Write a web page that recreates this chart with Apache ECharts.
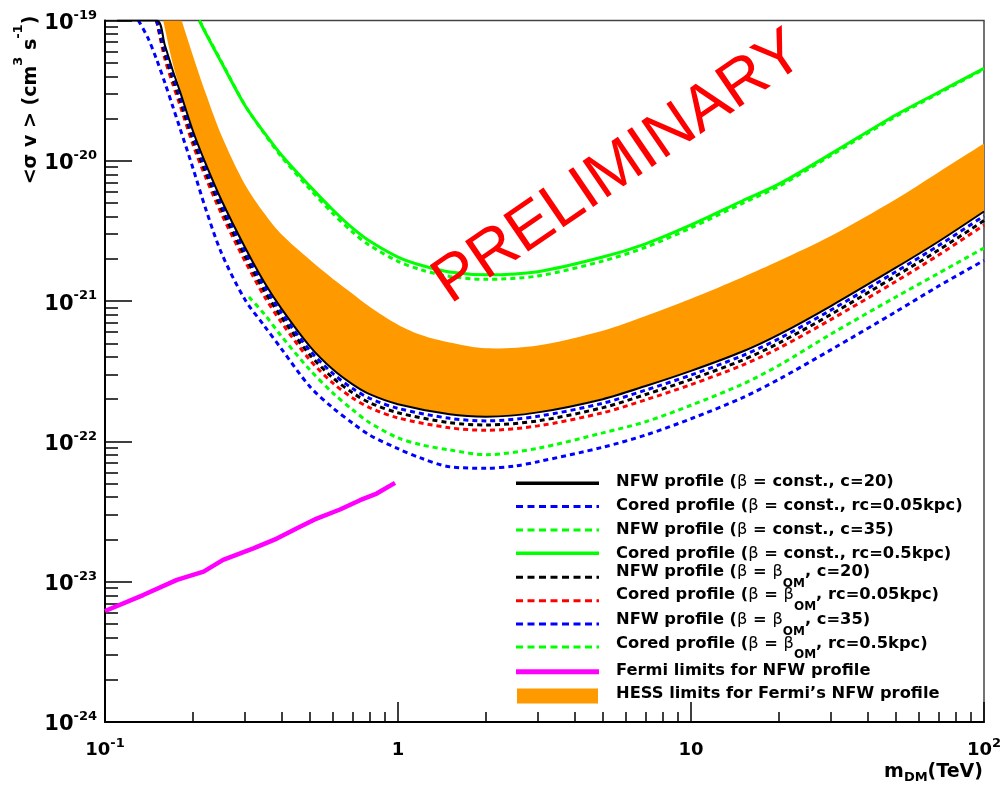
<!DOCTYPE html>
<html>
<head>
<meta charset="utf-8">
<title>DM annihilation cross-section limits</title>
<script src="https://cdn.jsdelivr.net/npm/echarts@6.0.0/dist/echarts.min.js"></script>
<style>
html,body{margin:0;padding:0;background:#ffffff;}
#chart{width:1003px;height:785px;}
</style>
</head>
<body>
<div id="chart"></div>
<script>
// ---------------- axis ticks ----------------
const xMajorTicks = [0.1, 1, 10, 100];
const xTickBase = ['10', '1', '10', '10'];
const xTickExp = ['-1', '', '', '2'];
const yMajorTicks = [1e-24, 1e-23, 1e-22, 1e-21, 1e-20, 1e-19];
const yTickBase = ['10', '10', '10', '10', '10', '10'];
const yTickExp = ['-24', '-23', '-22', '-21', '-20', '-19'];
const minorMultipliers = [2, 3, 4, 5, 6, 7, 8, 9];

// ---------------- series data (m_DM in TeV, <sigma v> in cm^3 s^-1) ----------------
const mBundle = [0.11, 0.15, 0.16, 0.17, 0.18, 0.2, 0.22, 0.25, 0.3, 0.35, 0.4, 0.5, 0.6, 0.7, 0.8, 1, 1.5, 2, 3, 5, 7, 10, 15, 20, 30, 50, 70, 100];
const nfwConstC20 = [1e-19, 1e-19, 6.69e-20, 4.46e-20, 3.15e-20, 1.61e-20, 9.66e-21, 5.21e-21, 2.43e-21, 1.355e-21, 8.83e-22, 4.76e-22, 3.25e-22, 2.55e-22, 2.17e-22, 1.84e-22, 1.56e-22, 1.50e-22, 1.61e-22, 2.00e-22, 2.48e-22, 3.18e-22, 4.37e-22, 5.79e-22, 9.22e-22, 1.73e-21, 2.66e-21, 4.35e-21];
const coredConstRc005 = [null, 1e-19, 6.25e-20, 4.17e-20, 2.95e-20, 1.51e-20, 9.03e-21, 4.87e-21, 2.27e-21, 1.27e-21, 8.26e-22, 4.45e-22, 3.04e-22, 2.38e-22, 2.03e-22, 1.72e-22, 1.46e-22, 1.40e-22, 1.51e-22, 1.87e-22, 2.32e-22, 2.97e-22, 4.09e-22, 5.41e-22, 8.62e-22, 1.62e-21, 2.49e-21, 4.04e-21];
const nfwOmC20 = [null, 1e-19, 5.82e-20, 3.88e-20, 2.74e-20, 1.40e-20, 8.40e-21, 4.53e-21, 2.11e-21, 1.18e-21, 7.68e-22, 4.14e-22, 2.83e-22, 2.22e-22, 1.89e-22, 1.60e-22, 1.36e-22, 1.31e-22, 1.40e-22, 1.74e-22, 2.16e-22, 2.77e-22, 3.80e-22, 5.04e-22, 8.02e-22, 1.51e-21, 2.31e-21, 3.75e-21];
const coredOmRc005 = [null, 1e-19, 5.35e-20, 3.57e-20, 2.52e-20, 1.29e-20, 7.73e-21, 4.17e-21, 1.94e-21, 1.08e-21, 7.06e-22, 3.81e-22, 2.60e-22, 2.04e-22, 1.74e-22, 1.47e-22, 1.25e-22, 1.20e-22, 1.29e-22, 1.60e-22, 1.98e-22, 2.54e-22, 3.50e-22, 4.63e-22, 7.38e-22, 1.38e-21, 2.13e-21, 3.48e-21];

const mNfwOmC35 = [0.13, 0.14, 0.15, 0.16, 0.17, 0.18, 0.2, 0.22, 0.25, 0.3, 0.35, 0.4, 0.5, 0.6, 0.7, 0.8, 1, 1.2, 1.5, 2, 2.5, 3, 5, 7, 10, 15, 20, 30, 50, 70, 100];
const nfwOmC35 = [1e-19, 7.54e-20, 5.28e-20, 3.61e-20, 2.47e-20, 1.72e-20, 8.75e-21, 4.63e-21, 2.19e-21, 1.03e-21, 6.65e-22, 4.57e-22, 2.46e-22, 1.73e-22, 1.35e-22, 1.11e-22, 8.87e-23, 7.59e-23, 6.59e-23, 6.44e-23, 6.68e-23, 7.16e-23, 9.09e-23, 1.11e-22, 1.45e-22, 2.05e-22, 2.78e-22, 4.49e-22, 8.39e-22, 1.28e-21, 1.95e-21];

const mNfwConstC35 = [0.31, 0.35, 0.4, 0.5, 0.6, 0.7, 0.8, 1, 1.2, 1.5, 2, 3, 5, 7, 10, 15, 20, 30, 50, 70, 100];
const nfwConstC35 = [1.07e-21, 8.07e-22, 5.62e-22, 3.24e-22, 2.21e-22, 1.68e-22, 1.36e-22, 1.06e-22, 9.46e-23, 8.69e-23, 8.04e-23, 8.93e-23, 1.15e-22, 1.38e-22, 1.81e-22, 2.56e-22, 3.49e-22, 5.81e-22, 1.07e-21, 1.58e-21, 2.39e-21];

const mCoredRc05 = [0.21, 0.22, 0.25, 0.3, 0.35, 0.4, 0.5, 0.6, 0.7, 0.8, 1, 1.2, 1.5, 2, 3, 5, 7, 10, 15, 20, 30, 50, 70, 100];
const coredConstRc05 = [1e-19, 8.21e-20, 5.00e-20, 2.49e-20, 1.58e-20, 1.10e-20, 6.6e-21, 4.46e-21, 3.31e-21, 2.68e-21, 2.06e-21, 1.80e-21, 1.61e-21, 1.54e-21, 1.62e-21, 2.06e-21, 2.56e-21, 3.49e-21, 5.19e-21, 6.84e-21, 1.12e-20, 2.12e-20, 3.08e-20, 4.56e-20];
const coredOmRc05 = [1e-19, 8.3e-20, 5.05e-20, 2.5e-20, 1.56e-20, 1.07e-20, 6.3e-21, 4.2e-21, 3.1e-21, 2.5e-21, 1.92e-21, 1.67e-21, 1.50e-21, 1.43e-21, 1.51e-21, 1.93e-21, 2.42e-21, 3.33e-21, 4.98e-21, 6.6e-21, 1.09e-20, 2.07e-20, 3.02e-20, 4.5e-20];

const mFermi = [0.1, 0.135, 0.176, 0.217, 0.253, 0.321, 0.386, 0.463, 0.528, 0.634, 0.742, 0.846, 0.977];
const fermiNfw = [6.18e-24, 8.03e-24, 1.03e-23, 1.18e-23, 1.43e-23, 1.73e-23, 2.03e-23, 2.46e-23, 2.82e-23, 3.27e-23, 3.81e-23, 4.25e-23, 5.06e-23];

const mHessLow = [0.158, 0.17, 0.18, 0.2, 0.22, 0.25, 0.3, 0.35, 0.4, 0.5, 0.6, 0.7, 0.8, 1, 1.5, 2, 3, 5, 7, 10, 15, 20, 30, 50, 70, 100];
const hessLow = [1e-19, 5.0e-20, 3.3e-20, 1.66e-20, 9.8e-21, 5.3e-21, 2.45e-21, 1.37e-21, 8.9e-22, 4.8e-22, 3.28e-22, 2.58e-22, 2.19e-22, 1.86e-22, 1.57e-22, 1.51e-22, 1.62e-22, 2.02e-22, 2.5e-22, 3.2e-22, 4.4e-22, 5.83e-22, 9.28e-22, 1.74e-21, 2.68e-21, 4.38e-21];
const mHessHigh = [0.1827, 0.2, 0.22, 0.25, 0.3, 0.35, 0.4, 0.5, 0.6, 0.7, 0.8, 1, 1.2, 1.5, 2, 3, 5, 7, 10, 15, 20, 30, 50, 70, 100];
const hessHigh = [1e-19, 5.55e-20, 3.08e-20, 1.51e-20, 6.81e-21, 4.21e-21, 2.99e-21, 1.97e-21, 1.44e-21, 1.13e-21, 9.12e-22, 6.79e-22, 5.73e-22, 5.07e-22, 4.61e-22, 4.83e-22, 6.15e-22, 7.83e-22, 1.04e-21, 1.48e-21, 1.94e-21, 2.91e-21, 5.32e-21, 8.30e-21, 1.33e-20];

// ---------------- texts ----------------
const legendLabels = [
  'NFW profile (β = const., c=20)',
  'Cored profile (β = const., rc=0.05kpc)',
  'NFW profile (β = const., c=35)',
  'Cored profile (β = const., rc=0.5kpc)',
  'NFW profile (β = β_{OM}, c=20)',
  'Cored profile (β = β_{OM}, rc=0.05kpc)',
  'NFW profile (β = β_{OM}, c=35)',
  'Cored profile (β = β_{OM}, rc=0.5kpc)',
  'Fermi limits for NFW profile',
  'HESS limits for Fermi’s NFW profile'
];
const watermarkText = 'PRELIMINARY';

// ---------------- styles & layout (kept apart from data) ----------------
const FONT = '"DejaVu Sans", "Liberation Sans", sans-serif';
const lineStyles = [
  {color: '#000000', width: 2, type: 'solid'},
  {color: '#0000ff', width: 3, type: [5, 4]},
  {color: '#00ff00', width: 3, type: [5, 4]},
  {color: '#00ff00', width: 3, type: 'solid'},
  {color: '#000000', width: 3, type: [5, 4]},
  {color: '#ff0000', width: 3, type: [5, 4]},
  {color: '#0000ff', width: 3, type: [5, 4]},
  {color: '#00ff00', width: 3, type: [5, 4]},
  {color: '#ff00ff', width: 4.5, type: 'solid'}
];
const bandColor = '#ff9900';
const legendSampleY = [483.3, 506.5, 530, 553.3, 577.3, 600.7, 624, 647, 671.7, 696];
const legendTextY = [482, 506, 529.3, 553.3, 571.7, 595, 620, 643.3, 671, 693.3];
const legendSampleWidths = [3.5, 3, 3, 3.5, 3, 3, 3, 3, 5];
const legendDash = [null, [7, 4.5], [7, 4.5], null, [7, 4.5], [7, 4.5], [7, 4.5], [7, 4.5], null];

function zip(xs, ys) {
  const out = [];
  xs.forEach((x, i) => { if (ys[i] != null) out.push([x, ys[i]]); });
  return out;
}
function plainName(s) { return s.replace(/_\{([^}]*)\}/g, '$1'); }
function toRich(s) {
  return s.split(/(β|_\{[^}]*\})/).filter(p => p !== '').map(p => {
    if (p === 'β') return '{g|β}';
    if (p.indexOf('_{') === 0) return '{s|' + p.slice(2, -1) + '}';
    return '{b|' + p + '}';
  }).join('');
}

const xMinorTicks = xMajorTicks.slice(0, -1).flatMap(d => minorMultipliers.map(k => k * d));
const yMinorTicks = yMajorTicks.slice(0, -1).flatMap(d => minorMultipliers.map(k => k * d));

function labelFor(ticks, bases, exps) {
  return function (v) {
    const e = Math.round(Math.log10(v));
    const i = ticks.findIndex(t => Math.round(Math.log10(t)) === e);
    if (i < 0) return '';
    return exps[i] ? '{n|' + bases[i] + '}{e|' + exps[i] + '}' : '{n|' + bases[i] + '}';
  };
}

const tickLine = {color: '#000', width: 1.5};

const xAxisBase = {type: 'log', logBase: 10, min: 0.1, max: 100, position: 'bottom', splitLine: {show: false}, minorTick: {show: false}, minorSplitLine: {show: false}};
const yAxisBase = {type: 'log', logBase: 10, min: 1e-24, max: 1e-19, position: 'left', splitLine: {show: false}, minorTick: {show: false}, minorSplitLine: {show: false}};

const curveDefs = [
  {name: legendLabels[7], data: zip(mCoredRc05, coredOmRc05), st: lineStyles[7]},
  {name: legendLabels[3], data: zip(mCoredRc05, coredConstRc05), st: lineStyles[3]},
  {name: legendLabels[6], data: zip(mNfwOmC35, nfwOmC35), st: lineStyles[6]},
  {name: legendLabels[2], data: zip(mNfwConstC35, nfwConstC35), st: lineStyles[2]},
  {name: legendLabels[5], data: zip(mBundle, coredOmRc005), st: lineStyles[5]},
  {name: legendLabels[4], data: zip(mBundle, nfwOmC20), st: lineStyles[4]},
  {name: legendLabels[1], data: zip(mBundle, coredConstRc005), st: lineStyles[1]},
  {name: legendLabels[0], data: zip(mBundle, nfwConstC20), st: lineStyles[0]}
];

const series = [];
series.push({
  type: 'custom',
  name: legendLabels[9],
  z: 1,
  silent: true,
  data: [[mHessLow[0], hessLow[0]]],
  renderItem: function (params, api) {
    const low = mHessLow.map((m, i) => api.coord([m, hessLow[i]]));
    const high = mHessHigh.map((m, i) => api.coord([m, hessHigh[i]])).reverse();
    // repeat the corner points so the smoothed outline keeps sharp corners
    const pts = [low[0]].concat(low, [low[low.length - 1]], [high[0]], high, [high[high.length - 1]]);
    const cs = params.coordSys;
    return {
      type: 'polygon',
      shape: {points: pts, smooth: 0.3},
      style: {fill: bandColor, stroke: null},
      clipPath: {type: 'rect', shape: {x: cs.x, y: cs.y, width: cs.width, height: cs.height}}
    };
  }
});
curveDefs.forEach(c => {
  series.push({
    type: 'line', name: plainName(c.name), data: c.data, z: 3,
    symbol: 'none', showSymbol: false, smooth: 0.3, clip: true, silent: true,
    lineStyle: {color: c.st.color, width: c.st.width, type: c.st.type},
    itemStyle: {color: c.st.color}
  });
});
series.push({
  type: 'line', name: legendLabels[8], data: zip(mFermi, fermiNfw), z: 3,
  symbol: 'none', showSymbol: false, smooth: false, clip: true, silent: true,
  lineStyle: {color: lineStyles[8].color, width: lineStyles[8].width},
  itemStyle: {color: lineStyles[8].color}
});

// ---------------- graphic: legend, axis titles, watermark ----------------
const richLegend = {
  b: {fontFamily: FONT, fontWeight: 'bold', fontSize: 16.3, fill: '#000'},
  g: {fontFamily: FONT, fontWeight: 'normal', fontSize: 16.3, fill: '#000'},
  s: {fontFamily: FONT, fontWeight: 'bold', fontSize: 12, height: 12, padding: [24, 0, 0, 0], verticalAlign: 'top', fill: '#000'}
};
const graphics = [];
for (let i = 0; i < 9; i++) {
  graphics.push({
    type: 'line', silent: true, z: 50,
    shape: {x1: 516, y1: legendSampleY[i], x2: 599, y2: legendSampleY[i]},
    style: {stroke: lineStyles[i].color, lineWidth: legendSampleWidths[i], lineDash: legendDash[i]}
  });
}
graphics.push({
  type: 'rect', silent: true, z: 50,
  shape: {x: 517, y: legendSampleY[9] - 7.5, width: 81, height: 15},
  style: {fill: bandColor}
});
legendLabels.forEach((lab, i) => {
  graphics.push({
    type: 'text', silent: true, z: 50, x: 616, y: legendTextY[i],
    style: {text: toRich(lab), rich: richLegend, align: 'left', verticalAlign: 'middle', fill: '#000'}
  });
});
// y axis title
graphics.push({
  type: 'text', silent: true, z: 50, x: 31, y: 100, rotation: Math.PI / 2,
  style: {
    text: '{t|<σ v > (cm}{p|3}{t| s}{p|-1}{t|)}',
    rich: {
      t: {fontFamily: FONT, fontWeight: 'bold', fontSize: 19, lineHeight: 37, fill: '#000'},
      p: {fontFamily: FONT, fontWeight: 'bold', fontSize: 13, height: 13, lineHeight: 13, verticalAlign: 'top', fill: '#000'}
    },
    align: 'center', verticalAlign: 'middle'
  }
});
// x axis title
graphics.push({
  type: 'text', silent: true, z: 50, x: 983, y: 772,
  style: {
    text: '{t|m}{d|DM}{t|(TeV)}',
    rich: {
      t: {fontFamily: FONT, fontWeight: 'bold', fontSize: 19, fill: '#000'},
      d: {fontFamily: FONT, fontWeight: 'bold', fontSize: 13, height: 13, padding: [12, 0, 0, 0], verticalAlign: 'top', fill: '#000'}
    },
    align: 'right', verticalAlign: 'middle'
  }
});
// watermark
graphics.push({
  type: 'text', silent: true, z: 100, x: 619, y: 168, rotation: 34.3 * Math.PI / 180,
  style: {text: watermarkText, font: '64px "Liberation Sans", Arial, sans-serif', fill: '#ff0000', align: 'center', verticalAlign: 'middle'}
});

const option = {
  animation: false,
  backgroundColor: '#ffffff',
  grid: {left: 105, right: 19, top: 20.5, bottom: 63, show: true, borderColor: '#444', borderWidth: 1.5, backgroundColor: 'transparent', containLabel: false, outerBoundsMode: 'none'},
  xAxis: [
    Object.assign({}, xAxisBase, {
      axisLine: {show: true, onZero: false, lineStyle: {color: '#000', width: 2}},
      axisTick: {show: true, inside: true, length: 20, customValues: xMajorTicks, lineStyle: tickLine},
      axisLabel: {
        show: true, customValues: xMajorTicks, margin: 15, formatter: labelFor(xMajorTicks, xTickBase, xTickExp),
        rich: {
          n: {fontFamily: FONT, fontWeight: 'bold', fontSize: 18, lineHeight: 26, color: '#000'},
          e: {fontFamily: FONT, fontWeight: 'bold', fontSize: 13, height: 14, lineHeight: 14, verticalAlign: 'top', color: '#000'}
        }
      }
    }),
    Object.assign({}, xAxisBase, {
      axisLine: {show: false},
      axisTick: {show: true, inside: true, length: 10, customValues: xMinorTicks, lineStyle: tickLine},
      axisLabel: {show: false}
    })
  ],
  yAxis: [
    Object.assign({}, yAxisBase, {
      axisLine: {show: true, onZero: false, lineStyle: {color: '#000', width: 2}},
      axisTick: {show: true, inside: true, length: 27, customValues: yMajorTicks, lineStyle: tickLine},
      axisLabel: {
        show: true, customValues: yMajorTicks, margin: 8, padding: [6, 0, 0, 0], formatter: labelFor(yMajorTicks, yTickBase, yTickExp),
        rich: {
          n: {fontFamily: FONT, fontWeight: 'bold', fontSize: 21, lineHeight: 30, color: '#000'},
          e: {fontFamily: FONT, fontWeight: 'bold', fontSize: 13, height: 14, lineHeight: 14, verticalAlign: 'top', color: '#000'}
        }
      }
    }),
    Object.assign({}, yAxisBase, {
      axisLine: {show: false},
      axisTick: {show: true, inside: true, length: 13, customValues: yMinorTicks, lineStyle: tickLine},
      axisLabel: {show: false}
    })
  ],
  series: series,
  graphic: graphics
};

const chart = echarts.init(document.getElementById('chart'), null, {renderer: 'canvas', width: 1003, height: 785});
chart.setOption(option);
</script>
</body>
</html>
